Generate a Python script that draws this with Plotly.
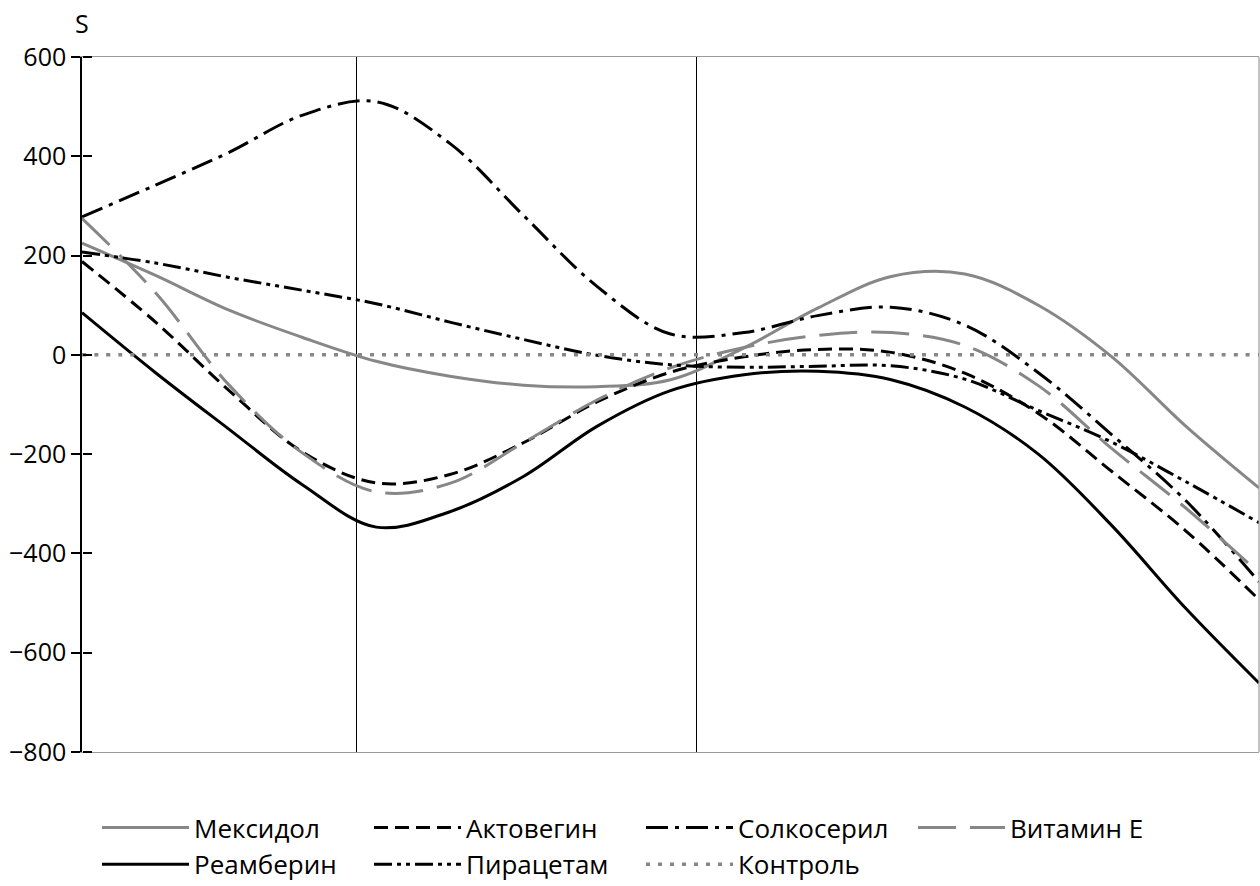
import plotly.graph_objects as go

# x positions on a 0-100 relative time scale
x = [0, 6.25, 12.5, 18.75, 25, 31.25, 37.5, 43.75, 50,
     56.25, 62.5, 68.75, 75, 81.25, 87.5, 93.75, 100]
stage_lines = [23.3, 52.2]

meksidol = [225, 160, 90, 35, -13, -43, -61, -64, -50,
            14, 94, 158, 163, 100, -4, -143, -268]
aktovegin = [188, 66, -72, -196, -258, -241, -177, -95, -35,
             -4, 11, 5, -37, -118, -235, -354, -493]
solkoseril = [278, 342, 408, 483, 510, 426, 281, 138, 42,
              45, 79, 96, 60, -36, -161, -293, -457]
vitamin_e = [275, 125, -61, -198, -276, -259, -177, -91, -26,
             15, 39, 45, 19, -62, -189, -308, -439]
reamberin = [85, -36, -150, -262, -347, -316, -245, -144, -72,
             -40, -33, -50, -105, -200, -344, -510, -661]
piracetam = [207, 185, 156, 130, 103, 66, 31, -1, -20,
             -25, -23, -22, -49, -112, -176, -255, -338]
kontrol = [0] * len(x)

GRAY = "#878787"
FONT = "Open Sans"

series = [
    ("Мексидол", meksidol, GRAY, "solid", 3),
    ("Актовегин", aktovegin, "black", "14px,7px", 3),
    ("Солкосерил", solkoseril, "black", "22px,7px,4px,7px", 3),
    ("Витамин Е", vitamin_e, GRAY, "38px,14px", 3),
    ("Реамберин", reamberin, "black", "solid", 3),
    ("Пирацетам", piracetam, "black", "18px,5px,4px,5px,4px,5px", 3),
    ("Контроль", kontrol, GRAY, "4px,8px", 3.5),
]

fig = go.Figure()
for name, vals, col, dash, w in series:
    fig.add_trace(go.Scatter(
        x=x, y=vals, name=name, mode="lines",
        yaxis="y2" if name == "Контроль" else "y",
        line=dict(color=col, dash=dash, width=w, shape="spline", smoothing=1.0),
    ))

fig.update_layout(
    width=1260, height=886,
    margin=dict(l=82, r=1, t=57, b=134),
    paper_bgcolor="white", plot_bgcolor="white",
    font=dict(family=FONT, size=25, color="black"),
    showlegend=True,
    legend=dict(
        orientation="h", xref="container", yref="container",
        x=97 / 1260, y=1 - 804 / 886, xanchor="left", yanchor="top",
        entrywidth=170, entrywidthmode="pixels", itemwidth=87,
        font=dict(family=FONT, size=26, color="black"),
        traceorder="normal",
    ),
    xaxis=dict(
        range=[0, 100], tickvals=stage_lines, showticklabels=False,
        showgrid=True, gridcolor="black", gridwidth=1.2, ticks="",
        zeroline=False, showline=True, linecolor="#9a9a9a", linewidth=1.2,
        mirror=True,
    ),
    yaxis=dict(
        range=[-800, 600], dtick=200, tick0=0, ticks="outside", ticklen=9,
        tickwidth=1.5, tickcolor="black", showline=True, linecolor="black",
        linewidth=1.5, showgrid=False, zeroline=False,
        tickfont=dict(family=FONT, size=25, color="black"),
        tickformat="d",
    ),
    yaxis2=dict(
        range=[-800, 600], dtick=200, tick0=0, ticks="outside", ticklen=9,
        tickwidth=1.5, tickcolor="black", showline=False, showgrid=False,
        zeroline=False, showticklabels=False, overlaying="y", side="right",
        anchor="free", position=0,
    ),
    shapes=[dict(type="line", xref="paper", yref="paper", x0=1, x1=1, y0=0, y1=1,
                 line=dict(color="#9a9a9a", width=1.2))],
    annotations=[dict(text="S", xref="paper", yref="paper", x=0, y=1,
                      xanchor="center", yanchor="bottom", yshift=15,
                      showarrow=False, font=dict(family=FONT, size=25, color="black"))],
)

fig.write_html("out.html")
